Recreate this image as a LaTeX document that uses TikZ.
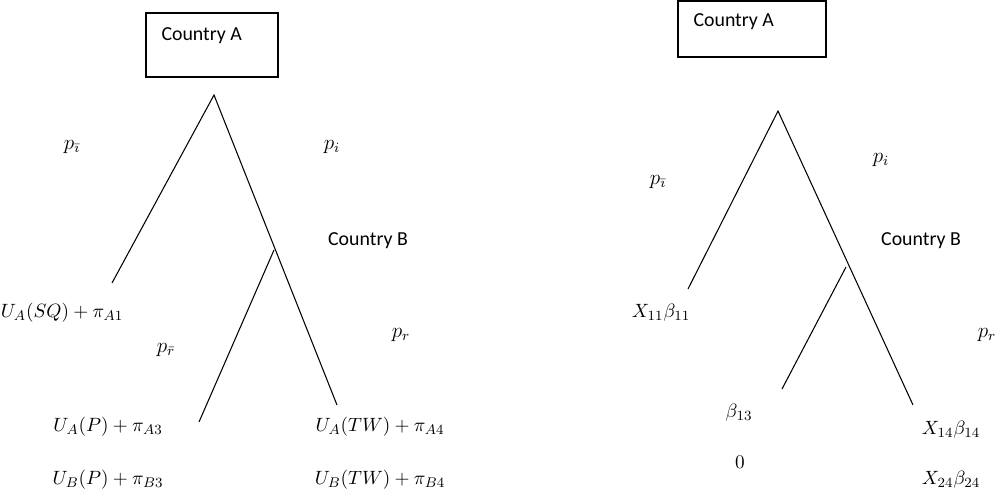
\documentclass[tikz,border=0pt]{standalone}
\usepackage{amsmath}
\usepackage{fontspec}
\setsansfont{Carlito}
\usetikzlibrary{positioning}

\begin{document}
\begin{tikzpicture}[x=0.02cm, y=-0.02cm, line width=0.6pt]
  \tikzset{
    countrybox/.style={draw, minimum width=2.64cm, minimum height=1.28cm},
    country/.style={font=\sffamily\fontsize{11.3}{13}\selectfont, inner sep=0pt},
    payoff/.style={font=\fontsize{11}{13}\selectfont, inner sep=0pt},
    prob/.style={font=\fontsize{11.5}{13}\selectfont, inner sep=0pt}
  }
  \useasboundingbox (0,0) rectangle (997,491);

  % left tree: payoffs
  \node[countrybox] (boxA) at (212,45) {};
  \node[country,anchor=west] (nameA) at (161,36) {Country A};
  \coordinate (root) at (214,95);
  \coordinate (sq) at (112,283);
  \coordinate (tw) at (337,405);
  \coordinate (nodeB) at (274,250);
  \coordinate (peace) at (199,422);
  \draw (sq) -- (root) -- (tw);
  \draw (nodeB) -- (peace);
  \node[prob] (pnoti) at (72,147) {$p_{\bar{\imath}}$};
  \node[prob] (pi) at (332,147) {$p_i$};
  \node[country] (nameB) at (368,241) {Country B};
  \node[payoff] (uasq) at (62,313) {$U_A(SQ)+\pi_{A1}$};
  \node[prob] (pnotr) at (166,350) {$p_{\bar r}$};
  \node[prob] (pr) at (401,335) {$p_r$};
  \node[payoff] (uap) at (108,427) {$U_A(P)+\pi_{A3}$};
  \node[payoff] (ubp) at (108,480) {$U_B(P)+\pi_{B3}$};
  \node[payoff] (uatw) at (380,427) {$U_A(TW)+\pi_{A4}$};
  \node[payoff] (ubtw) at (380,480) {$U_B(TW)+\pi_{B4}$};

  % right tree: estimation
  \node[countrybox, minimum width=2.96cm, minimum height=1.12cm] (boxA2) at (752,29) {};
  \node[country,anchor=west] (nameA2) at (693,22) {Country A};
  \coordinate (root2) at (778,111);
  \coordinate (sq2) at (688,289);
  \coordinate (tw2) at (913,405);
  \coordinate (nodeB2) at (846,267);
  \coordinate (peace2) at (782,389);
  \draw (sq2) -- (root2) -- (tw2);
  \draw (nodeB2) -- (peace2);
  \node[prob] (pnoti2) at (658,182) {$p_{\bar{\imath}}$};
  \node[prob] (pi2) at (881,160) {$p_i$};
  \node[country] (nameB2) at (921,241) {Country B};
  \node[payoff] (x11) at (661,313) {$X_{11}\beta_{11}$};
  \node[prob] (pr2) at (987,335) {$p_r$};
  \node[payoff] (b13) at (739,413) {$\beta_{13}$};
  \node[payoff] (zero) at (740,462) {$0$};
  \node[payoff] (x14) at (951,430) {$X_{14}\beta_{14}$};
  \node[payoff] (x24) at (951,480) {$X_{24}\beta_{24}$};
\end{tikzpicture}
\end{document}
